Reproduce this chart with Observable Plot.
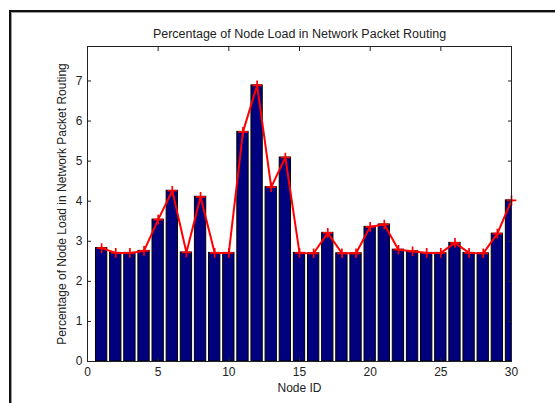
<!DOCTYPE html>
<html>
<head>
<meta charset="utf-8">
<script src="https://cdn.jsdelivr.net/npm/d3@7"></script>
<script src="https://cdn.jsdelivr.net/npm/@observablehq/plot@0.6"></script>
<style>
  html, body { margin: 0; padding: 0; background: #fff; overflow: hidden; }
  #wrap { position: relative; width: 555px; height: 403px; }
  #border {
    position: absolute; left: 9px; top: 10px; width: 700px; height: 600px;
    border-left: 2px solid #111; border-top: 2px solid #111;
    box-shadow: inset 1px 1px 0 #999; pointer-events: none;
  }
  svg { font-family: "Liberation Sans", Arial, sans-serif; }
</style>
</head>
<body>
<div id="wrap"><div id="border"></div></div>
<script>
// Node identifiers and their share of the routed packet load (%)
const nodeIds = [1, 2, 3, 4, 5, 6, 7, 8, 9, 10, 11, 12, 13, 14, 15,
                 16, 17, 18, 19, 20, 21, 22, 23, 24, 25, 26, 27, 28, 29, 30];
const loadPct = [2.83, 2.71, 2.71, 2.76, 3.54, 4.26, 2.72, 4.11, 2.71, 2.71,
                 5.73, 6.89, 4.35, 5.09, 2.71, 2.70, 3.21, 2.70, 2.70, 3.36,
                 3.42, 2.79, 2.75, 2.71, 2.71, 2.96, 2.71, 2.70, 3.19, 4.02];
const xTicks = [0, 5, 10, 15, 20, 25, 30];
const yTicks = [0, 1, 2, 3, 4, 5, 6, 7];
const title = "Percentage of Node Load in Network Packet Routing";
const xLabel = "Node ID";
const yLabel = "Percentage of Node Load in Network Packet Routing";

const rows = nodeIds.map((id, i) => ({id, load: loadPct[i]}));
const barHalf = 0.4;
const ink = "#222";

const chart = Plot.plot({
  width: 555,
  height: 403,
  marginLeft: 87,
  marginRight: 44,
  marginTop: 46,
  marginBottom: 42,
  style: {fontFamily: "'Liberation Sans', Arial, sans-serif", fontSize: "12px", color: ink, background: "transparent"},
  x: {domain: [0, 30], axis: null},
  y: {domain: [0, 7.86], axis: null},
  marks: [
    Plot.rectY(rows, {
      x1: d => d.id - barHalf, x2: d => d.id + barHalf, y: "load",
      fill: "#00007f", stroke: "#000", strokeWidth: 1, clip: true
    }),
    Plot.line(rows, {x: "id", y: "load", stroke: "#ff0000", strokeWidth: 2}),
    Plot.dot(rows, {x: "id", y: "load", symbol: "plus", r: 3.2, stroke: "#ff0000", strokeWidth: 1.7}),
    Plot.frame({stroke: ink, strokeWidth: 1}),
    // inward tick marks on all four sides
    Plot.axisX(xTicks, {anchor: "bottom", tickSize: -4, fill: "none", label: null, stroke: ink}),
    Plot.axisX(xTicks, {anchor: "top", tickSize: -4, fill: "none", label: null, stroke: ink}),
    Plot.axisY(yTicks, {anchor: "left", tickSize: -4, fill: "none", label: null, stroke: ink}),
    Plot.axisY(yTicks, {anchor: "right", tickSize: -4, fill: "none", label: null, stroke: ink}),
    // tick labels
    Plot.axisX(xTicks, {anchor: "bottom", tickSize: 0, tickPadding: 6, label: null, fill: ink, fontSize: 12}),
    Plot.axisY(yTicks, {anchor: "left", tickSize: 0, tickPadding: 5, label: null, fill: ink, fontSize: 12}),
    // titles
    Plot.text([title], {frameAnchor: "top", dy: -13, lineAnchor: "middle", textAnchor: "middle", fontSize: 12.5, fill: ink}),
    Plot.text([xLabel], {frameAnchor: "bottom", dy: 27, lineAnchor: "middle", textAnchor: "middle", fontSize: 12, fill: ink}),
    Plot.text([yLabel], {frameAnchor: "left", dx: -25, rotate: -90, lineAnchor: "middle", textAnchor: "middle", fontSize: 12, fill: ink})
  ]
});

document.getElementById("wrap").prepend(chart);
chart.style.position = "absolute";
chart.style.left = "0";
chart.style.top = "0";
</script>
</body>
</html>
